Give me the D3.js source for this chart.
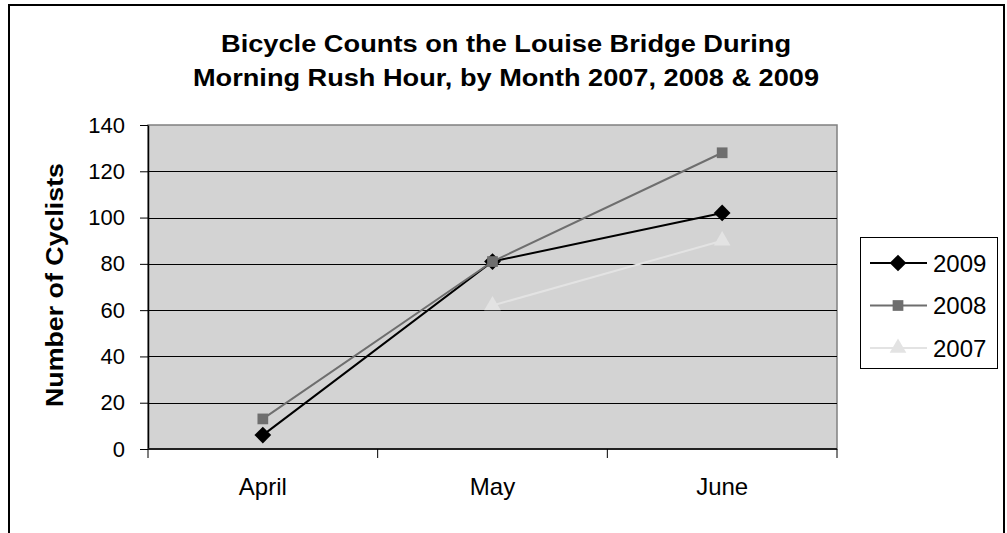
<!DOCTYPE html>
<html><head><meta charset="utf-8">
<script src="https://cdn.jsdelivr.net/npm/d3@7"></script>
<style>body{margin:0;background:#fff}svg{display:block;font-family:"Liberation Sans",Arial,sans-serif}</style>
</head><body><svg id="c" width="1007" height="533"></svg>
<script>
const months = ["April","May","June"];
const series2009 = [6, 81, 102];
const series2008 = [13, 81, 128];
const series2007 = [null, 62, 90];
const seriesNames = ["2009","2008","2007"];
const yTicks = [0,20,40,60,80,100,120,140];
const titleLines = ["Bicycle Counts on the Louise Bridge During","Morning Rush Hour, by Month 2007, 2008 & 2009"];
const yTitle = "Number of Cyclists";

const svg = d3.select("#c");
const L = 148, R = 837, T = 125, B = 449;

svg.append("rect").attr("x",9).attr("y",5).attr("width",995).attr("height",540)
  .attr("fill","#fff").attr("stroke","#000").attr("stroke-width",2);

const x = d3.scaleBand().domain(months).range([L,R]);
const y = d3.scaleLinear().domain([0,140]).range([B,T]);

svg.append("rect").attr("x",L).attr("y",T).attr("width",R-L).attr("height",B-T)
  .attr("fill","#d3d3d3").attr("stroke","#808080").attr("stroke-width",1.5);

// gridlines
svg.append("g").selectAll("line").data(yTicks.filter(d=>d>0 && d<140)).join("line")
  .attr("x1",L).attr("x2",R).attr("y1",d=>Math.round(y(d))+0.5).attr("y2",d=>Math.round(y(d))+0.5)
  .attr("stroke","#000").attr("stroke-width",1);

// y axis
const ya = svg.append("g").attr("transform",`translate(${L},0)`)
  .call(d3.axisLeft(y).tickValues(yTicks).tickSize(8).tickSizeOuter(0).tickPadding(15));
ya.select(".domain").attr("stroke","#000").attr("stroke-width",1.5);
ya.selectAll(".tick line").attr("stroke","#000");
ya.selectAll("text").attr("font-size",22).attr("fill","#000").attr("font-family","Liberation Sans, Arial, sans-serif");

// x axis
const xa = svg.append("g").attr("transform",`translate(0,${B})`)
  .call(d3.axisBottom(x).tickSize(0).tickSizeOuter(0).tickPadding(0));
xa.select(".domain").remove();
xa.selectAll(".tick text").attr("font-size",24).attr("fill","#000").attr("dy",null).attr("y",46)
  .attr("font-family","Liberation Sans, Arial, sans-serif");
xa.selectAll(".tick line").remove();
svg.append("line").attr("x1",L).attr("x2",R).attr("y1",B).attr("y2",B).attr("stroke","#222").attr("stroke-width",2);
const bounds = [L].concat(months.map(m=>x(m)+x.bandwidth()));
svg.append("g").selectAll("line").data(bounds).join("line")
  .attr("x1",d=>d).attr("x2",d=>d).attr("y1",B).attr("y2",B+9).attr("stroke","#000");

// title
svg.append("g").selectAll("text").data(titleLines).join("text")
  .attr("x",506).attr("y",(d,i)=>52+i*34).attr("text-anchor","middle")
  .attr("font-size",23).attr("font-weight","bold").attr("fill","#000")
  .attr("textLength",(d,i)=>i===0?570:626).attr("lengthAdjust","spacingAndGlyphs")
  .text(d=>d);

// y title
svg.append("text").attr("transform","translate(63,285) rotate(-90)").attr("text-anchor","middle")
  .attr("font-size",23).attr("font-weight","bold").attr("fill","#000")
  .attr("textLength",244).attr("lengthAdjust","spacingAndGlyphs").text(yTitle);

const colors = {"2009":"#000000","2008":"#6e6e6e","2007":"#e3e3e3"};
const data = {"2009":series2009,"2008":series2008,"2007":series2007};
const diamond = {draw(ctx,size){const r=Math.sqrt(size/2);ctx.moveTo(0,-r);ctx.lineTo(r,0);ctx.lineTo(0,r);ctx.lineTo(-r,0);ctx.closePath();}};
const symbols = {"2009":diamond,"2008":d3.symbolSquare,"2007":d3.symbolTriangle};
const sizes = {"2009":140,"2008":115,"2007":120};
const cx = m => x(m)+x.bandwidth()/2;

const line = d3.line().defined(d=>d.v!=null).x(d=>cx(d.m)).y(d=>y(d.v));
seriesNames.forEach(s=>{
  const pts = months.map((m,i)=>({m, v:data[s][i]}));
  svg.append("path").datum(pts).attr("d",line).attr("fill","none")
    .attr("stroke",colors[s]).attr("stroke-width",2);
  svg.append("g").selectAll("path").data(pts.filter(d=>d.v!=null)).join("path")
    .attr("d",d3.symbol().type(symbols[s]).size(sizes[s]))
    .attr("transform",d=>`translate(${cx(d.m)},${y(d.v)})`)
    .attr("fill",colors[s]);
});

// legend
const lg = svg.append("g");
lg.append("rect").attr("x",860.5).attr("y",237.5).attr("width",137).attr("height",131)
  .attr("fill","#fff").attr("stroke","#000").attr("stroke-width",1);
seriesNames.forEach((s,i)=>{
  const yy = 263 + i*42.5;
  lg.append("line").attr("x1",870).attr("x2",927).attr("y1",yy).attr("y2",yy)
    .attr("stroke",colors[s]).attr("stroke-width",2);
  lg.append("path").attr("d",d3.symbol().type(symbols[s]).size(sizes[s]))
    .attr("transform",`translate(898,${yy})`).attr("fill",colors[s]);
  lg.append("text").attr("x",933).attr("y",yy).attr("dy","0.36em").attr("font-size",24)
    .attr("fill","#000").text(s);
});
</script></body></html>
